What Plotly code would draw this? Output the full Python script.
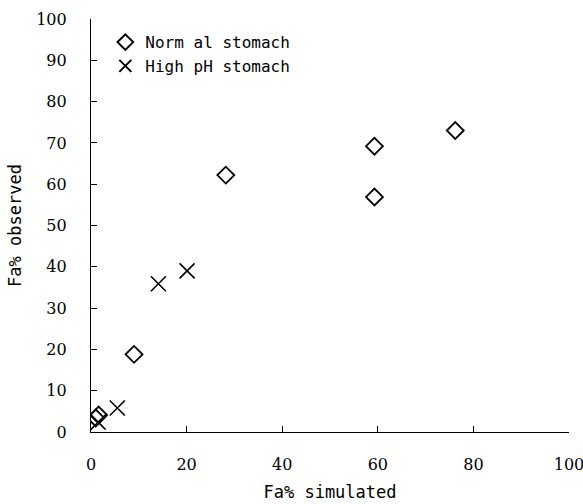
import plotly.graph_objects as go

normal_x = [1.0, 1.6, 9.0, 28.2, 59.3, 59.3, 76.2]
normal_y = [3.4, 4.1, 18.8, 62.2, 69.2, 56.9, 73.0]
high_x = [1.5, 5.5, 14.1, 20.1]
high_y = [2.4, 5.8, 35.9, 39.0]

x_ticks = [0, 20, 40, 60, 80, 100]
y_ticks = [0, 10, 20, 30, 40, 50, 60, 70, 80, 90, 100]

mono = "DejaVu Sans Mono"
serif = "DejaVu Serif, Liberation Serif, Times New Roman, serif"

fig = go.Figure()
fig.add_trace(go.Scatter(
    x=normal_x, y=normal_y, mode="markers", name="Norm al stomach",
    marker=dict(symbol="diamond-open", size=13, color="black", line=dict(width=1.8, color="black")),
))
fig.add_trace(go.Scatter(
    x=high_x, y=high_y, mode="markers", name="High pH stomach",
    marker=dict(symbol="x-thin-open", size=15, color="black", line=dict(width=1.6, color="black")),
))

fig.update_layout(
    width=583, height=504,
    margin=dict(l=91, r=14, t=19, b=72, autoexpand=False),
    paper_bgcolor="white", plot_bgcolor="white",
    font=dict(family=serif, color="black"),
    showlegend=True,
    legend=dict(x=0.03, y=0.985, xanchor="left", yanchor="top",
                font=dict(family=mono, size=16, color="black"),
                bgcolor="rgba(0,0,0,0)", itemsizing="constant",
                tracegroupgap=2, itemwidth=30),
    xaxis=dict(range=[0, 100], tickvals=x_ticks, ticks="inside", ticklen=6,
               tickcolor="black", showline=True, linecolor="black", linewidth=1.2,
               showgrid=False, zeroline=False, mirror=False, automargin=False,
               ticklabeloverflow="allow",
               tickfont=dict(family=serif, size=16, color="black"),
               ticklabelstandoff=18,
               title=dict(text="Fa% simulated", font=dict(family=mono, size=17, color="black"), standoff=12)),
    yaxis=dict(range=[0, 100], tickvals=y_ticks, ticks="inside", ticklen=6,
               tickcolor="black", showline=True, linecolor="black", linewidth=1.2,
               showgrid=False, zeroline=False, automargin=False,
               ticklabeloverflow="allow",
               tickfont=dict(family=serif, size=16, color="black"),
               ticklabelstandoff=20,
               title=dict(text="Fa% observed", font=dict(family=mono, size=17, color="black"), standoff=10)),
)

fig.write_html("out.html")
